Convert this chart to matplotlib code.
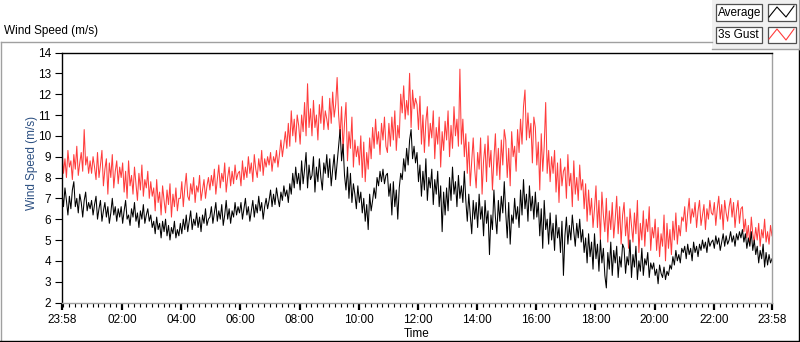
import numpy as np
import pandas as pd
import matplotlib
matplotlib.use("Agg")
import matplotlib.pyplot as plt
import matplotlib.dates as mdates
from matplotlib.lines import Line2D
from matplotlib.patches import Rectangle
from matplotlib.ticker import FixedLocator

# ---------------- data (3-minute samples over 24 h) ----------------
start_time = "2020-01-01 23:58"
span_hours = 24

average_mps = [
    7.3, 6.6, 7.5, 6.9, 6.2, 7.1, 6.5, 7.4, 7.8, 6.6, 7.0, 6.3, 7.2, 6.8, 6.1, 6.9, 7.3, 6.4, 6.8, 6.5,
    6.9, 6.2, 6.7, 7.1, 6.0, 6.5, 6.9, 5.9, 6.4, 6.8, 6.1, 6.6, 5.8, 6.3, 7.0, 6.2, 6.6, 5.9, 6.5, 6.1,
    6.6, 5.8, 6.4, 6.9, 6.0, 6.2, 5.7, 6.5, 6.1, 6.8, 5.9, 6.3, 5.6, 6.4, 6.0, 6.7, 5.8, 6.2, 6.5, 5.9,
    6.2, 5.6, 5.9, 5.3, 6.1, 5.5, 5.8, 5.1, 5.9, 5.4, 6.0, 5.2, 5.7, 5.0, 5.6, 5.3, 5.9, 5.1, 5.5, 5.2,
    5.8, 5.3, 6.0, 5.5, 6.2, 5.4, 5.9, 6.4, 5.5, 6.0, 5.7, 6.3, 5.6, 6.1, 5.4, 6.2, 5.8, 6.5, 5.7, 6.0,
    6.1, 6.6, 5.8, 6.3, 6.8, 5.9, 6.4, 6.0, 6.7, 5.7, 6.2, 6.9, 6.0, 6.5, 5.8, 6.4, 6.1, 6.8, 6.2, 6.6,
    6.3, 6.8, 6.0, 6.5, 7.0, 6.2, 6.6, 5.9, 6.4, 6.9, 6.1, 6.7, 6.3, 7.1, 6.4, 6.8, 6.0, 6.6, 7.0, 6.5,
    6.9, 7.4, 6.6, 7.2, 6.7, 7.5, 7.0, 6.6, 7.3, 6.9, 7.6, 7.1, 7.4, 6.8, 7.7, 7.2, 8.2, 7.5, 8.5, 7.7,
    8.2, 7.4, 8.8, 7.7, 8.4, 9.2, 7.5, 8.6, 7.9, 8.1, 9.0, 7.3, 8.5, 7.8, 8.9, 8.0, 7.4, 8.7, 8.2, 9.1,
    8.0, 8.9, 7.6, 8.4, 9.1, 7.9, 8.7, 9.5, 10.3, 8.8, 9.6, 8.1, 7.4, 8.5, 7.0, 8.2, 6.8, 7.7, 7.2, 6.5,
    7.6, 6.8, 7.3, 6.3, 7.0, 5.9, 6.7, 5.5, 7.2, 6.4, 6.9, 7.5, 7.0, 8.0, 7.6, 8.3, 7.8, 8.4, 7.7, 8.1,
    8.2, 7.1, 7.7, 6.2, 7.8, 6.6, 7.4, 6.0, 7.5, 8.2, 7.9, 8.9, 8.3, 9.4, 8.6, 9.8, 10.3, 8.9, 9.5, 8.7,
    9.2, 7.8, 8.6, 7.1, 8.3, 7.4, 8.9, 6.9, 8.0, 7.5, 8.4, 6.7, 7.9, 7.2, 8.3, 6.6, 7.6, 5.4, 7.3, 6.2,
    7.5, 6.4, 8.0, 6.9, 8.5, 7.2, 7.8, 6.6, 8.1, 7.0, 7.6, 6.8, 8.3, 6.9, 5.9, 7.2, 6.2, 5.3, 6.9, 6.0,
    6.8, 5.6, 7.2, 6.0, 6.6, 5.2, 6.9, 5.8, 6.4, 4.3, 6.2, 5.5, 7.4, 6.1, 5.3, 6.9, 5.9, 7.1, 6.3, 7.8,
    6.3, 5.1, 6.8, 4.8, 6.2, 5.8, 7.0, 6.0, 6.6, 5.6, 7.4, 6.2, 7.9, 6.5, 7.2, 5.9, 7.6, 6.4, 7.1, 6.0,
    7.3, 6.1, 6.8, 5.2, 6.5, 4.6, 6.9, 5.5, 6.0, 4.8, 6.3, 5.0, 5.8, 4.5, 6.2, 5.1, 5.6, 4.4, 5.9, 3.3,
    5.2, 6.1, 4.8, 5.7, 5.0, 6.2, 5.4, 4.7, 5.8, 5.1, 6.0, 4.9, 5.5, 4.4, 5.1, 3.9, 5.3, 4.2, 4.9, 3.6,
    5.3, 4.1, 4.8, 3.5, 5.0, 3.9, 4.6, 3.3, 2.7, 4.4, 3.6, 4.9, 3.3, 4.5, 3.9, 4.7, 3.2, 4.2, 3.7, 4.8,
    4.6, 3.4, 4.2, 3.8, 5.0, 3.2, 4.3, 3.7, 4.7, 3.1, 4.0, 3.5, 4.6, 3.3, 4.1, 3.8, 4.4, 3.2, 3.9, 3.6,
    3.9, 3.3, 3.6, 2.9, 3.8, 3.4, 3.2, 3.7, 3.1, 3.5, 3.3, 3.8, 3.6, 4.2, 3.8, 4.5, 4.0, 4.3, 3.9, 4.6,
    4.4, 4.7, 4.1, 4.8, 4.3, 4.6, 4.0, 4.9, 4.4, 4.7, 4.2, 4.8, 4.5, 5.0, 4.6, 4.9, 4.4, 5.1, 4.7, 4.9,
    5.0, 4.6, 5.2, 4.8, 5.1, 4.5, 4.9, 5.3, 4.7, 5.2, 4.8, 5.0, 5.4, 4.9, 5.2, 4.7, 5.3, 5.0, 5.4, 5.1,
    5.5, 4.9, 5.3, 4.6, 5.1, 4.7, 5.4, 4.5, 5.0, 4.3, 4.7, 3.9, 4.5, 4.1, 4.8, 3.7, 4.4, 3.8, 4.3, 3.9,
    4.1,
]

gust_mps = [
    9.4, 8.2, 8.9, 8.0, 9.3, 8.5, 8.8, 7.9, 9.1, 8.4, 9.5, 8.1, 8.7, 9.2, 8.3, 10.3, 8.6, 9.0, 8.2, 8.8,
    8.2, 9.0, 8.5, 7.9, 9.2, 8.0, 8.6, 9.3, 7.6, 8.4, 8.9, 7.2, 8.7, 8.0, 9.1, 7.5, 8.3, 8.8, 7.7, 8.5,
    8.0, 8.7, 7.3, 8.3, 7.0, 8.8, 7.6, 8.1, 7.2, 8.5, 7.7, 6.9, 8.2, 7.4, 8.6, 7.1, 7.9, 7.5, 8.3, 7.0,
    7.8, 7.1, 7.5, 6.4, 7.9, 6.8, 7.3, 6.2, 7.6, 6.9, 6.3, 7.4, 6.7, 7.7, 6.1, 7.2, 6.6, 7.5, 6.4, 7.0,
    7.0, 7.8, 6.6, 7.5, 8.2, 7.1, 6.9, 7.7, 7.2, 8.0, 6.8, 7.6, 7.3, 8.1, 6.9, 7.4, 7.9, 7.0, 7.6, 8.0,
    7.4, 8.1, 7.6, 8.4, 7.2, 7.9, 8.6, 7.5, 8.2, 7.8, 8.7, 7.3, 8.0, 8.5, 7.6, 8.3, 7.7, 8.6, 7.9, 8.2,
    8.3, 7.6, 8.8, 7.9, 8.5, 8.0, 9.0, 8.2, 8.7, 7.8, 9.1, 8.4, 8.0, 8.9, 8.3, 9.3, 8.1, 8.9, 8.5, 9.0,
    8.6, 9.2, 8.3, 9.0, 8.7, 9.3, 8.5, 9.1, 9.8, 9.0, 9.6, 10.2, 9.4, 10.6, 9.5, 11.2, 10.0, 10.8, 9.7, 11.0,
    10.5, 9.6, 11.0, 10.2, 11.6, 10.0, 12.5, 10.4, 11.3, 10.0, 11.7, 10.4, 11.0, 9.8, 11.5, 10.6, 11.9, 10.3, 11.2, 10.8,
    10.3, 11.8, 10.6, 12.1, 10.9, 11.5, 12.8, 11.0, 10.0, 11.4, 9.3, 10.6, 11.6, 8.8, 10.2, 9.4, 10.9, 8.5, 9.8, 9.0,
    9.5, 8.6, 10.0, 8.0, 9.7, 7.8, 9.2, 8.4, 9.9, 8.9, 10.4, 9.4, 10.8, 9.6, 10.2, 9.1, 10.6, 9.8, 10.9, 9.5,
    9.2, 10.6, 9.5, 10.9, 9.8, 11.2, 9.3, 10.5, 9.9, 12.0, 11.1, 12.4, 10.8, 11.7, 11.0, 13.0, 10.4, 12.2, 11.3, 11.8,
    11.5, 10.3, 11.9, 9.6, 11.0, 9.2, 10.7, 11.4, 9.5, 10.6, 9.9, 11.2, 8.9, 10.4, 9.6, 10.9, 8.5, 10.2, 9.3, 10.7,
    9.8, 11.2, 9.0, 10.5, 9.4, 11.4, 10.0, 10.8, 9.5, 13.2, 9.6, 10.8, 9.0, 10.1, 8.2, 9.7, 7.6, 8.8, 9.9, 8.4,
    7.5, 9.2, 8.4, 9.9, 7.2, 8.8, 9.6, 7.8, 10.0, 8.5, 9.3, 7.4, 8.9, 10.1, 8.1, 9.4, 7.9, 9.8, 8.6, 10.3,
    9.8, 8.0, 9.4, 7.6, 10.2, 9.0, 9.5, 8.3, 10.3, 9.2, 10.8, 9.6, 11.4, 12.2, 9.8, 11.1, 9.9, 10.6, 8.7, 10.9,
    10.4, 8.6, 9.7, 7.4, 10.1, 8.3, 9.5, 11.6, 8.2, 9.3, 7.8, 9.0, 8.2, 9.3, 7.3, 8.7, 6.8, 8.9, 7.6, 8.3,
    8.5, 7.0, 9.1, 7.6, 8.2, 6.6, 8.8, 7.2, 8.0, 6.9, 8.6, 7.4, 7.9, 6.5, 7.7, 5.9, 7.4, 6.2, 7.0, 5.6,
    6.5, 7.6, 5.6, 6.9, 5.0, 7.3, 6.2, 5.4, 7.0, 4.9, 6.4, 5.5, 6.8, 5.1, 6.0, 7.1, 5.3, 6.6, 4.8, 6.2,
    6.8, 5.2, 6.1, 4.6, 6.5, 5.7, 4.9, 6.3, 5.3, 6.9, 4.4, 5.8, 5.0, 6.4, 4.7, 6.0, 5.4, 6.6, 4.5, 5.6,
    5.1, 6.0, 4.5, 5.6, 4.2, 5.3, 4.7, 6.2, 4.0, 5.8, 4.6, 5.5, 4.3, 5.9, 5.0, 6.3, 4.8, 5.7, 5.2, 6.1,
    5.9, 6.6, 5.4, 6.3, 7.0, 5.8, 6.5, 6.1, 6.8, 5.6, 6.4, 6.9, 5.7, 6.2, 6.7, 5.5, 6.5, 6.0, 6.9, 6.3,
    6.2, 6.8, 5.7, 6.5, 7.1, 6.0, 6.7, 5.5, 6.9, 6.3, 5.9, 6.6, 7.0, 6.1, 6.8, 5.6, 6.4, 6.9, 5.8, 6.5,
    6.6, 5.4, 6.0, 5.1, 5.7, 4.8, 6.1, 5.3, 4.9, 5.6, 5.0, 5.8, 4.7, 5.5, 5.1, 6.0, 4.9, 5.4, 4.8, 5.7,
    5.2,
]

y_ticks = list(range(2, 15))
x_major_hours = [2, 4, 6, 8, 10, 12, 14, 16, 18, 20, 22]
series_names = ["Average", "3s Gust"]

# ---------------- figure ----------------
plt.rcParams["font.family"] = ["Liberation Sans", "DejaVu Sans"]
W, H = 800, 342
fig = plt.figure(figsize=(W / 100, H / 100), dpi=100)
fig.patch.set_facecolor("white")

def fx(x):
    return x / W

def fy(y):
    return 1 - y / H

ax = fig.add_axes([fx(62), fy(302.5), fx(772) - fx(62), fy(52.5) - fy(302.5)])

t0 = pd.Timestamp(start_time)
t_end = t0 + pd.Timedelta(hours=span_hours)

def time_axis(values):
    n = len(values)
    step = pd.Timedelta(hours=span_hours) / (n - 1)
    return [t0 + i * step for i in range(n)]

RED = "#ff3c3c"
ax.plot(time_axis(gust_mps), gust_mps, color=RED, lw=0.75)
ax.plot(time_axis(average_mps), average_mps, color="black", lw=0.75)

ax.set_xlim(mdates.date2num(t0), mdates.date2num(t_end))
ax.set_ylim(2, 14)
ax.set_yticks(y_ticks)
ax.set_yticklabels([str(v) for v in y_ticks])

day2 = pd.Timestamp(t0.date()) + pd.Timedelta(days=1)
major_times = [t0] + [day2 + pd.Timedelta(hours=h) for h in x_major_hours] + [t_end]
ax.xaxis.set_major_locator(FixedLocator([mdates.date2num(t) for t in major_times]))
ax.xaxis.set_major_formatter(mdates.DateFormatter("%H:%M"))
ax.xaxis.set_minor_locator(mdates.MinuteLocator(byminute=[0, 12, 24, 36, 48]))

ax.tick_params(axis="x", which="major", length=5, width=1.6, pad=3, labelsize=8.5,
               colors="black", direction="out")
ax.tick_params(axis="x", which="minor", length=3, width=0.8, direction="out")
ax.tick_params(axis="y", which="major", length=5, width=0.8, pad=3, labelsize=8.5,
               direction="out")

for side in ["top", "left"]:
    ax.spines[side].set_color("black")
    ax.spines[side].set_linewidth(1.0)
for side in ["right", "bottom"]:
    ax.spines[side].set_color("#a0a0a0")
    ax.spines[side].set_linewidth(1.0)

# axis labels
fig.text(fx(32), fy(163), "Wind Speed (m/s)", rotation=90, ha="center", va="center",
         fontsize=8.5, color="#2b4f81")
fig.text(fx(417), fy(334), "Time", ha="center", va="center", fontsize=8.5, color="black")

# chart label
fig.text(fx(4), fy(31), "Wind Speed (m/s)", ha="left", va="center", fontsize=8.5, color="black")

# outer frame
def fline(xs, ys, color, lw=1.0):
    fig.add_artist(Line2D([fx(x) for x in xs], [fy(y) for y in ys], color=color, lw=lw,
                          transform=fig.transFigure))

fline([0.5, 712], [42, 42], "#a0a0a0")
fline([1, 1], [42, 341], "#a0a0a0")
fline([0, 799], [341, 341], "black")
fline([798.5, 798.5], [49, 341], "black")

# legend panel
fig.add_artist(Rectangle((fx(712), fy(49)), fx(798) - fx(712), fy(0) - fy(49),
                         transform=fig.transFigure, facecolor="#f0f0f0", edgecolor="none"))
fline([712, 799], [49, 49], "#a0a0a0")
fline([798.5, 798.5], [0, 49], "#a0a0a0")

legend_rows = [(4, 21, "black", [(769, 17), (777, 7), (786, 17), (794, 6)]),
               (27, 43, RED, [(769, 39), (777, 29), (786, 40), (794, 29)])]
for (y0, y1, col, pts), name in zip(legend_rows, series_names):
    fig.add_artist(Rectangle((fx(715.5), fy(y1)), fx(762) - fx(715.5), fy(y0) - fy(y1),
                             transform=fig.transFigure, facecolor="white",
                             edgecolor="#505050", lw=0.9))
    fig.text(fx(717.5), fy((y0 + y1) / 2 + 0.5), name, ha="left", va="center",
             fontsize=8.5, color="black")
    fig.add_artist(Rectangle((fx(767.5), fy(y1)), fx(796) - fx(767.5), fy(y0) - fy(y1),
                             transform=fig.transFigure, facecolor="white",
                             edgecolor="#505050", lw=0.9))
    fline([p[0] for p in pts], [p[1] for p in pts], col, lw=0.8)

fig.savefig("out.png", dpi=100, facecolor="white")
